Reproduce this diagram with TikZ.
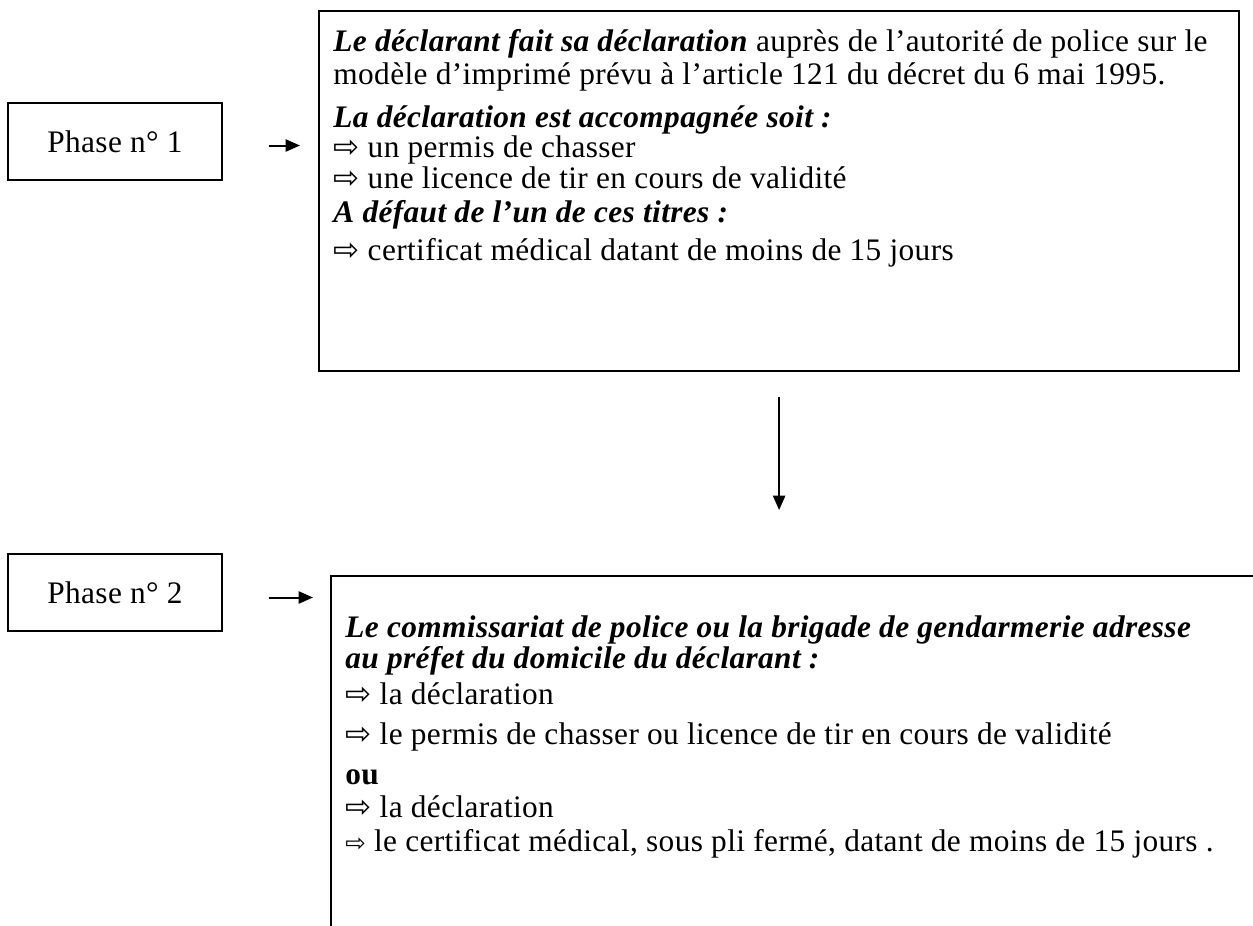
\documentclass[tikz,border=0pt]{standalone}
\usepackage{fontspec}
\setmainfont{Liberation Serif}[LetterSpace=1.2]
\newfontfamily\arrowfont{DejaVu Sans}
\usetikzlibrary{arrows.meta,positioning}
\newlength\pxu
\setlength\pxu{0.45pt}
\newcommand{\puce}{{\arrowfont\fontsize{14}{12}\selectfont\char"21E8}\ }
\newcommand{\petitepuce}{{\arrowfont\fontsize{11}{12}\selectfont\char"21E8}\ }

\begin{document}
\begin{tikzpicture}[
    x=\pxu, y=-\pxu,
    >={Triangle[length=6.5pt,width=5.5pt]},
    phase/.style={rectangle, draw, line width=0.8pt, minimum width=214\pxu, minimum height=77\pxu, inner sep=0pt, font=\fontsize{14.1}{14}\selectfont},
    cadre/.style={rectangle, draw, line width=1pt, anchor=north west, inner sep=0pt},
    bloc/.style={align=left, inner sep=0pt, font=\fontsize{14.1}{14}\selectfont},
    fleche/.style={->, line width=0.9pt},
]
\clip (0,0) rectangle (1253,926);

% Cadres
\node[phase] (ph1) at (115,141.5) {Phase n° 1};
\node[cadre, minimum width=920\pxu, minimum height=360\pxu] (b1) at (318,10) {};
\node[phase] (ph2) at (115,592.5) {Phase n° 2};
\node[cadre, minimum width=1000\pxu, minimum height=420\pxu] (b2) at (330,575) {};

% Textes
\node[bloc, below right=19\pxu and 15\pxu of b1.north west] (t1) {%
\textbf{\textit{Le déclarant fait sa déclaration}} auprès de l’autorité de police sur le\\[0.9pt]
modèle d’imprimé prévu à l’article 121 du décret du 6 mai 1995.\\[5.4pt]
\textbf{\textit{La déclaration est accompagnée soit :}}\\[-0.6pt]
\puce un permis de chasser\\
\puce une licence de tir en cours de validité\\[1.3pt]
\textbf{\textit{A défaut de l’un de ces titres :}}\\[3.1pt]
\puce certificat médical datant de moins de 15 jours};

\node[bloc, below right=40\pxu and 15\pxu of b2.north west] (t2) {%
\textbf{\textit{Le commissariat de police ou la brigade de gendarmerie adresse}}\\
\textbf{\textit{au préfet du domicile du déclarant :}}\\[2.2pt]
\puce la déclaration\\[4pt]
\puce le permis de chasser ou licence de tir en cours de validité\\[4pt]
\textbf{ou}\\[0.9pt]
\puce la déclaration\\[1.3pt]
\petitepuce le certificat médical, sous pli fermé, datant de moins de 15 jours .};

% Fleches
\draw[fleche, shorten <=46\pxu, shorten >=18\pxu] ([yshift=-4\pxu]ph1.east) -- ([yshift=-4\pxu]ph1.east -| b1.west);
\draw[fleche, shorten <=46\pxu, shorten >=17\pxu] ([yshift=-5\pxu]ph2.east) -- ([yshift=-5\pxu]ph2.east -| b2.west);
\draw[fleche, shorten <=25\pxu, shorten >=65\pxu] (b1.south) -- (b1.south |- b2.north);

\end{tikzpicture}
\end{document}
